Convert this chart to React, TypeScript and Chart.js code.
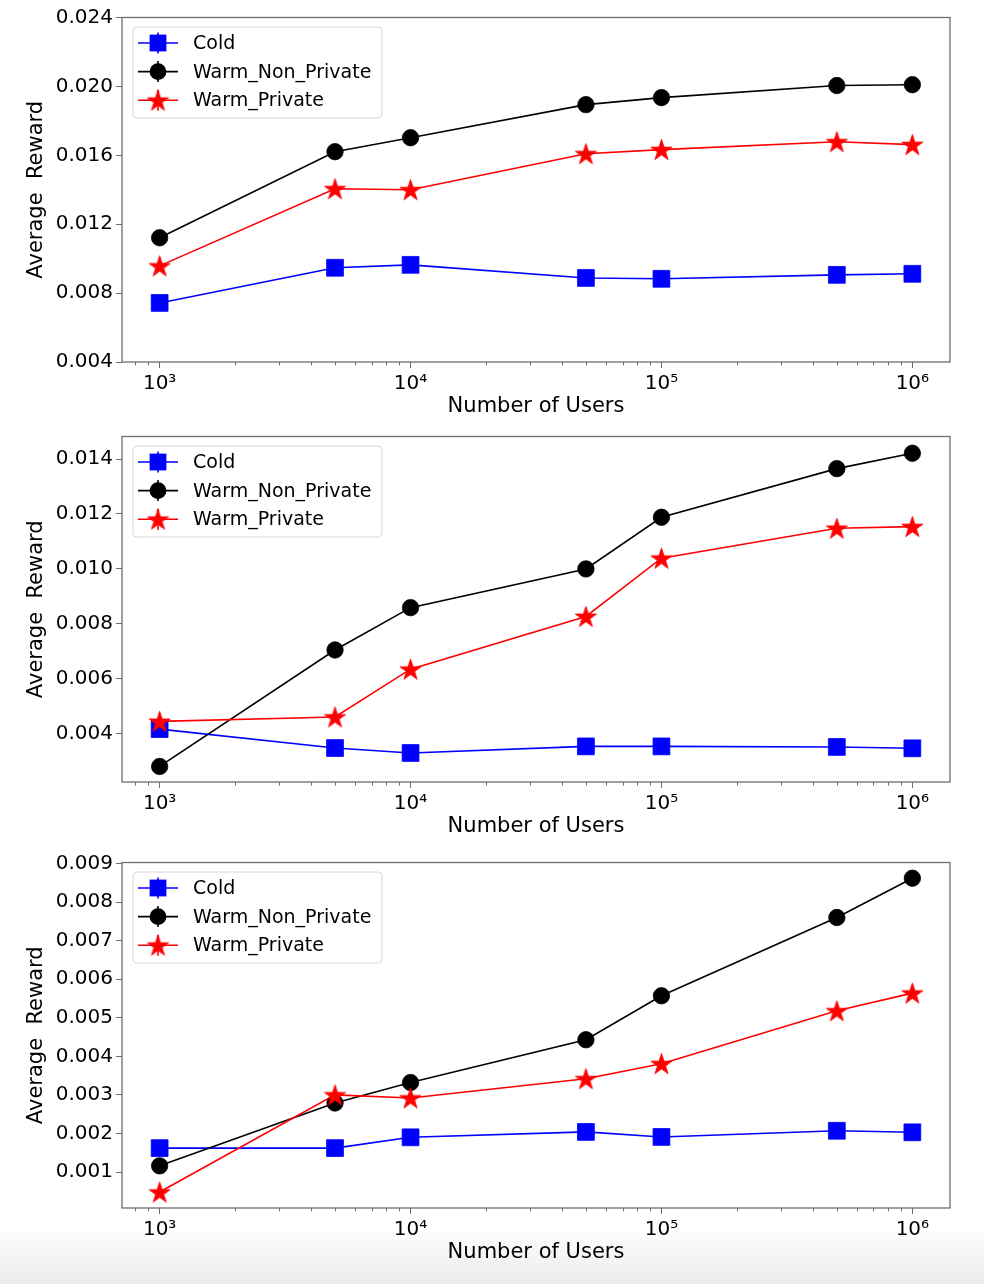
import React, { useEffect, useRef } from 'react';
import { Chart, registerables } from 'chart.js';
Chart.register(...registerables);

// ---------------- data ----------------
const users = [1000, 5000, 10000, 50000, 100000, 500000, 1000000];
const xTickValues = [1000, 10000, 100000, 1000000];
const xTickLabels = ['10³', '10⁴', '10⁵', '10⁶'];
const seriesNames = ['Cold', 'Warm_Non_Private', 'Warm_Private'];
const xAxisTitle = 'Number of Users';
const yAxisTitle = 'Average  Reward';

const cold1 = [0.00743, 0.00947, 0.00964, 0.00888, 0.00883, 0.00906, 0.00912];
const warmNonPrivate1 = [0.01121, 0.01621, 0.01702, 0.01894, 0.01935, 0.02005, 0.0201];
const warmPrivate1 = [0.00958, 0.01406, 0.014, 0.01609, 0.01633, 0.01679, 0.01662];
const yTicks1 = [0.004, 0.008, 0.012, 0.016, 0.02, 0.024];

const cold2 = [0.00417, 0.00348, 0.0033, 0.00354, 0.00354, 0.00352, 0.00347];
const warmNonPrivate2 = [0.00281, 0.00705, 0.00859, 0.01, 0.01188, 0.01365, 0.01421];
const warmPrivate2 = [0.00445, 0.00461, 0.00635, 0.00827, 0.01039, 0.01148, 0.01154];
const yTicks2 = [0.004, 0.006, 0.008, 0.01, 0.012, 0.014];

const cold3 = [0.00162, 0.00162, 0.0019, 0.00204, 0.00191, 0.00207, 0.00203];
const warmNonPrivate3 = [0.00116, 0.00279, 0.00332, 0.00443, 0.00557, 0.0076, 0.00862];
const warmPrivate3 = [0.00048, 0.003, 0.00292, 0.00342, 0.00381, 0.00518, 0.00564];
const yTicks3 = [0.001, 0.002, 0.003, 0.004, 0.005, 0.006, 0.007, 0.008, 0.009];

const FONT = "'DejaVu Sans', 'Liberation Sans', sans-serif";
const SPINE = '#6e6e6e';

function makeStar(color: string, R: number): HTMLCanvasElement {
  const size = Math.ceil(R * 2 + 4);
  const c = document.createElement('canvas');
  c.width = size;
  c.height = size;
  const ctx = c.getContext('2d')!;
  const cx = size / 2;
  const cy = size / 2 + R * 0.09;
  const r = R * 0.382;
  ctx.beginPath();
  for (let i = 0; i < 10; i++) {
    const rad = i % 2 === 0 ? R : r;
    const a = -Math.PI / 2 + (i * Math.PI) / 5;
    const px = cx + rad * Math.cos(a);
    const py = cy + rad * Math.sin(a);
    if (i === 0) ctx.moveTo(px, py);
    else ctx.lineTo(px, py);
  }
  ctx.closePath();
  ctx.fillStyle = color;
  ctx.fill();
  ctx.strokeStyle = color;
  ctx.lineWidth = 0.8;
  ctx.stroke();
  return c;
}

function drawMarker(ctx: CanvasRenderingContext2D, kind: string, x: number, y: number, color: string, star: HTMLCanvasElement) {
  ctx.fillStyle = color;
  if (kind === 'square') {
    ctx.fillRect(x - 8.4, y - 8.4, 16.8, 16.8);
  } else if (kind === 'circle') {
    ctx.beginPath();
    ctx.arc(x, y, 8.4, 0, Math.PI * 2);
    ctx.fill();
  } else {
    ctx.drawImage(star, x - star.width / 2, y - star.height / 2);
  }
}

type PanelProps = {
  canvasTop: number;
  plotTop: number;
  plotBottom: number;
  cold: number[];
  warmNonPrivate: number[];
  warmPrivate: number[];
  yMin: number;
  yMax: number;
  yTicks: number[];
};

const W = 984;
const PLOT_LEFT = 122;
const PLOT_RIGHT = 950;
const X_AXIS_H = 57.6;
const BOTTOM_PAD = 10.4;

function Panel(props: PanelProps) {
  const ref = useRef<HTMLCanvasElement | null>(null);
  const padTop = props.plotTop - props.canvasTop;
  const height = Math.round(props.plotBottom - props.canvasTop + X_AXIS_H + BOTTOM_PAD);

  useEffect(() => {
    const canvas = ref.current!;
    const star = makeStar('#ff0000', 11.2);
    const kinds = ['square', 'circle', 'star'];
    const colors = ['#0000ff', '#000000', '#ff0000'];
    const values = [props.cold, props.warmNonPrivate, props.warmPrivate];

    const datasets = seriesNames.map((name, i) => ({
      label: name,
      data: users.map((u, j) => ({ x: u, y: values[i][j] })),
      borderColor: colors[i],
      backgroundColor: colors[i],
      pointBackgroundColor: colors[i],
      pointBorderColor: colors[i],
      pointBorderWidth: 0.8,
      borderWidth: 1.6,
      tension: 0,
      pointStyle: i === 0 ? 'rect' : i === 1 ? 'circle' : (star as any),
      pointRadius: i === 0 ? 11.9 : i === 1 ? 8.2 : 11,
      order: 2 - i,
      clip: false as any,
    }));

    const framePlugin = {
      id: 'frame',
      afterDraw(chart: any) {
        const { ctx, chartArea } = chart;
        const xs = chart.scales.x;
        ctx.save();
        ctx.strokeStyle = SPINE;
        ctx.lineWidth = 1.3;
        ctx.strokeRect(chartArea.left, chartArea.top, chartArea.right - chartArea.left, chartArea.bottom - chartArea.top);
        // minor ticks on log axis
        ctx.lineWidth = 1;
        for (let n = 2; n <= 6; n++) {
          for (let k = 2; k <= 9; k++) {
            const v = k * Math.pow(10, n);
            if (v < xs.min || v > xs.max) continue;
            const px = Math.round(xs.getPixelForValue(v)) + 0.5;
            ctx.beginPath();
            ctx.moveTo(px, chartArea.bottom);
            ctx.lineTo(px, chartArea.bottom + 3.5);
            ctx.stroke();
          }
        }
        ctx.restore();
      },
    };

    const legendPlugin = {
      id: 'mplLegend',
      afterDraw(chart: any) {
        const { ctx, chartArea } = chart;
        const x0 = chartArea.left + 11;
        const y0 = chartArea.top + 9.5;
        const w = 249;
        const h = 91;
        ctx.save();
        ctx.beginPath();
        const r = 4;
        ctx.moveTo(x0 + r, y0);
        ctx.lineTo(x0 + w - r, y0);
        ctx.arcTo(x0 + w, y0, x0 + w, y0 + r, r);
        ctx.lineTo(x0 + w, y0 + h - r);
        ctx.arcTo(x0 + w, y0 + h, x0 + w - r, y0 + h, r);
        ctx.lineTo(x0 + r, y0 + h);
        ctx.arcTo(x0, y0 + h, x0, y0 + h - r, r);
        ctx.lineTo(x0, y0 + r);
        ctx.arcTo(x0, y0, x0 + r, y0, r);
        ctx.closePath();
        ctx.fillStyle = 'rgba(255,255,255,0.8)';
        ctx.fill();
        ctx.strokeStyle = '#d6d6d6';
        ctx.lineWidth = 1;
        ctx.stroke();
        chart.data.datasets.forEach((ds: any, i: number) => {
          const cy = y0 + 16 + i * 28.6;
          ctx.strokeStyle = colors[i];
          ctx.lineWidth = 1.6;
          ctx.beginPath();
          ctx.moveTo(x0 + 5, cy);
          ctx.lineTo(x0 + 45, cy);
          ctx.moveTo(x0 + 25, cy - 10.5);
          ctx.lineTo(x0 + 25, cy + 10.5);
          ctx.stroke();
          drawMarker(ctx, kinds[i], x0 + 25, cy, colors[i], star);
          ctx.fillStyle = '#000';
          ctx.font = `19px ${FONT}`;
          ctx.textAlign = 'left';
          ctx.textBaseline = 'middle';
          ctx.fillText(ds.label, x0 + 60, cy + 1);
        });
        ctx.restore();
      },
    };

    const chart = new Chart(canvas, {
      type: 'line',
      data: { datasets: datasets as any },
      options: {
        animation: false,
        responsive: false,
        maintainAspectRatio: false,
        events: [],
        layout: {
          padding: { top: padTop, left: 0, right: W - PLOT_RIGHT, bottom: BOTTOM_PAD },
        },
        plugins: { legend: { display: false }, tooltip: { enabled: false }, title: { display: false } },
        scales: {
          x: {
            type: 'logarithmic',
            min: Math.pow(10, 2.85),
            max: Math.pow(10, 6.15),
            afterBuildTicks: (s: any) => {
              s.ticks = xTickValues.map((v) => ({ value: v, major: true }));
            },
            afterFit: (s: any) => {
              s.height = X_AXIS_H;
            },
            ticks: {
              autoSkip: false,
              maxRotation: 0,
              padding: 4,
              color: '#000',
              font: { family: FONT, size: 20 },
              callback: (v: any) => {
                const idx = xTickValues.indexOf(Number(v));
                return idx >= 0 ? xTickLabels[idx] : '';
              },
            },
            grid: {
              display: true,
              drawOnChartArea: false,
              drawTicks: true,
              tickLength: 6,
              tickColor: SPINE,
              tickWidth: 1,
            },
            border: { display: false },
            title: {
              display: true,
              text: xAxisTitle,
              color: '#000',
              font: { family: FONT, size: 21 },
              padding: 0,
            },
          },
          y: {
            type: 'linear',
            min: props.yMin,
            max: props.yMax,
            afterBuildTicks: (s: any) => {
              s.ticks = props.yTicks.map((v) => ({ value: v }));
            },
            afterFit: (s: any) => {
              s.width = PLOT_LEFT;
            },
            ticks: {
              autoSkip: false,
              padding: 3,
              color: '#000',
              font: { family: FONT, size: 20 },
              callback: (v: any) => Number(v).toFixed(3),
            },
            grid: {
              display: true,
              drawOnChartArea: false,
              drawTicks: true,
              tickLength: 6,
              tickColor: SPINE,
              tickWidth: 1,
            },
            border: { display: false },
            title: {
              display: true,
              text: yAxisTitle,
              color: '#000',
              font: { family: FONT, size: 21 },
              padding: { top: 24.4, bottom: 0 },
            },
          },
        },
      },
      plugins: [framePlugin, legendPlugin],
    } as any);
    return () => chart.destroy();
  }, []);

  return (
    <canvas
      ref={ref}
      width={W}
      height={height}
      style={{ position: 'absolute', left: 0, top: props.canvasTop, width: W, height, display: 'block' }}
    />
  );
}

export default function App() {
  return (
    <div style={{ position: 'absolute', left: 0, top: 0, width: 984, height: 1284, background: '#fff', overflow: 'hidden' }}>
      <div
        style={{
          position: 'absolute',
          left: 0,
          top: 1226,
          width: 984,
          height: 58,
          background: 'linear-gradient(to bottom, #ffffff, #ebebeb)',
        }}
      />
      <Panel canvasTop={0} plotTop={17.5} plotBottom={362} cold={cold1} warmNonPrivate={warmNonPrivate1} warmPrivate={warmPrivate1} yMin={0.004} yMax={0.024} yTicks={yTicks1} />
      <Panel canvasTop={419.2} plotTop={436.7} plotBottom={782.3} cold={cold2} warmNonPrivate={warmNonPrivate2} warmPrivate={warmPrivate2} yMin={0.002244} yMax={0.01482} yTicks={yTicks2} />
      <Panel canvasTop={845.2} plotTop={862.7} plotBottom={1208.3} cold={cold3} warmNonPrivate={warmNonPrivate3} warmPrivate={warmPrivate3} yMin={0.000067} yMax={0.009027} yTicks={yTicks3} />
    </div>
  );
}
